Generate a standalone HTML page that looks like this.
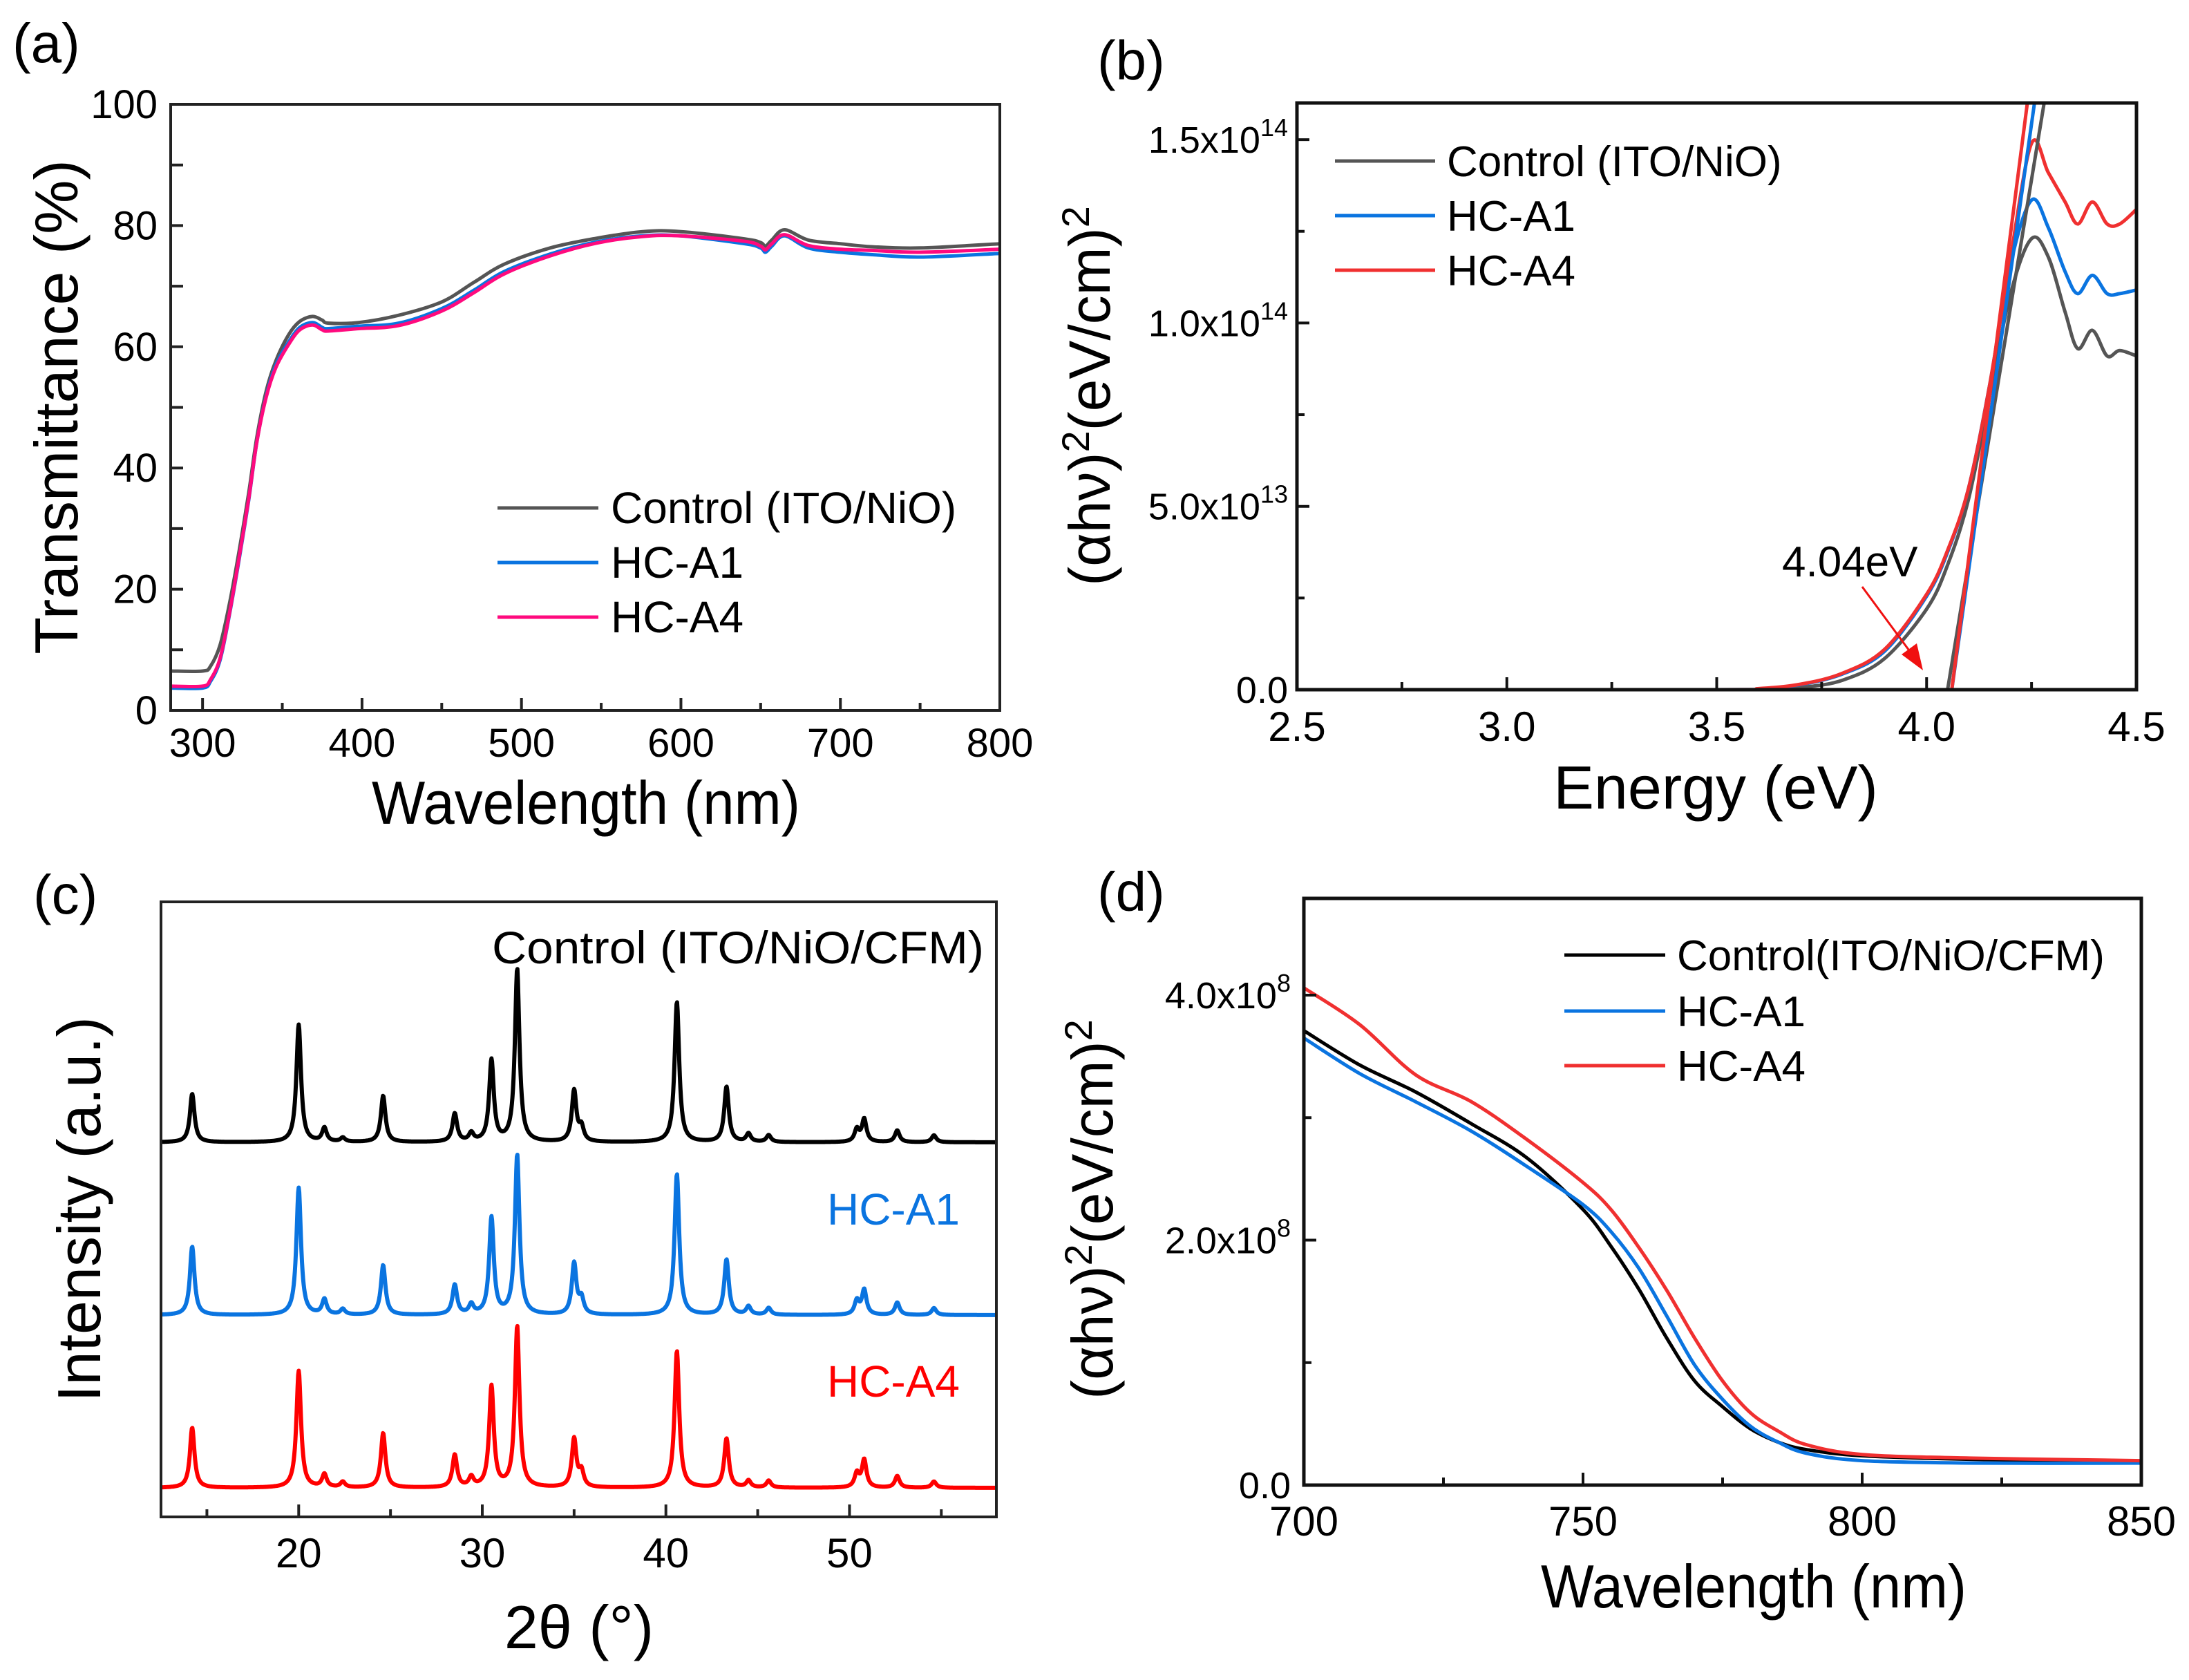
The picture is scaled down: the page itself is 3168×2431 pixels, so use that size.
<!DOCTYPE html>
<html><head><meta charset="utf-8">
<style>
html,body{margin:0;padding:0;background:#fff;}
svg{display:block;font-family:"Liberation Sans",Arial,sans-serif;}
</style></head>
<body>
<svg id="fig" width="3168" height="2431" viewBox="0 0 3168 2431" xmlns="http://www.w3.org/2000/svg">
<rect width="3168" height="2431" fill="#fff"/>
</svg>
<script>
// ---------- Panel (a) data ----------
const aWl = [280,300,305,311,317,323,329,334,340,346,354,361,369,375,379,398,423,450,470,489,518,547,576,600,640,650,653,657,665,680,700,720,750,800];
const aControl = [6.5,6.5,7.3,10.8,17.8,26.4,36,45,52.8,57.7,62,64.2,65,64.4,63.9,64,65.2,67.4,70.6,73.6,76.3,77.9,79,79,77.8,77.2,76.6,77.6,79.3,77.6,77,76.5,76.3,77];
const aHCA1 = [3.7,3.7,4.8,8.3,16,25,34.8,44.2,52,57,60.8,63.2,64,63.2,63,63.4,63.9,66.3,69.3,72.4,75.3,77.3,78.3,78.3,77,76.3,75.6,76.6,78.3,76.3,75.6,75.2,74.8,75.4];
const aHCA4 = [4.0,4.0,5.1,8.6,16.2,25.3,35,44.2,51.8,56.6,60.4,62.8,63.6,62.8,62.6,63,63.5,65.9,68.9,72,75,77.1,78.2,78.3,77.4,76.6,76,77,78.5,76.7,76.1,75.9,75.6,76.1];
const aXTicks = [300,400,500,600,700,800];
const aYTicks = [0,20,40,60,80,100];

// ---------- Panel (b) data ----------
const bE = [2.5,3.5,3.6,3.7,3.8,3.9,4.0,4.05,4.1,4.15,4.2,4.25,4.29,4.33,4.36,4.395,4.43,4.46,4.5];
const bControl = [0,0,0,0.6e12,2.6e12,8.5e12,2.2e13,3.4e13,5.2e13,8.0e13,1.08e14,1.23e14,1.18e14,1.03e14,0.93e14,0.98e14,0.91e14,0.925e14,0.91e14];
const bHCA1 = [0,0,2e11,1.4e12,4.3e12,1.05e13,2.55e13,3.75e13,5.5e13,8.3e13,1.16e14,1.335e14,1.26e14,1.14e14,1.08e14,1.13e14,1.08e14,1.08e14,1.09e14];
const bHCA4 = [0,0,3e11,1.5e12,4.5e12,1.1e13,2.6e13,3.8e13,5.5e13,8.3e13,1.18e14,1.49e14,1.41e14,1.33e14,1.27e14,1.33e14,1.27e14,1.27e14,1.31e14];
const bFitControl = [[4.05,0],[4.28,1.6e14]];
const bFitHCA1 = [[4.06,0],[4.257,1.6e14]];
const bFitHCA4 = [[4.06,0],[4.24,1.6e14]];
const bXTicks = [2.5,3.0,3.5,4.0,4.5];
const bYTicks = [0,5e13,1e14,1.5e14];
const bYTickLabels = [["0.0",""],["5.0x10","13"],["1.0x10","14"],["1.5x10","14"]];

// ---------- Panel (c) data ----------
const cPeakPos = [14.2,20.0,21.4,22.4,24.6,28.5,29.4,30.5,31.9,35.0,35.4,40.6,43.3,44.5,45.6,50.4,50.8,52.6,54.6];
const cControlH = [70,170,20,6,67,41,12,118,250,74,20,203,80,12,10,18,33,17,10];
const cHCA1H = [99,184,22,8,72,43,14,140,231,74,22,204,80,12,10,20,36,18,10];
const cHCA4H = [87,169,19,8,79,47,14,146,233,70,22,198,71,10,10,20,40,17,9];
const cXTicks = [20,30,40,50];

// ---------- Panel (d) data ----------
const dWl = [700,710,720,730,740,750,755,760,765,770,775,780,785,790,800,820,850];
const dControl = [3.71e8,3.43e8,3.21e8,2.95e8,2.67e8,2.25e8,1.95e8,1.60e8,1.20e8,0.85e8,0.64e8,0.46e8,0.35e8,0.29e8,0.24e8,0.21e8,0.19e8];
const dHCA1 = [3.65e8,3.36e8,3.13e8,2.89e8,2.60e8,2.29e8,2.07e8,1.77e8,1.38e8,0.98e8,0.70e8,0.48e8,0.35e8,0.26e8,0.20e8,0.18e8,0.18e8];
const dHCA4 = [4.06e8,3.76e8,3.35e8,3.13e8,2.82e8,2.47e8,2.25e8,1.94e8,1.59e8,1.20e8,0.85e8,0.59e8,0.44e8,0.33e8,0.25e8,0.22e8,0.20e8];
const dXTicks = [700,750,800,850];
const dYTicks = [0,2e8,4e8];
const dYTickLabels = [["0.0",""],["2.0x10","8"],["4.0x10","8"]];

const NS = "http://www.w3.org/2000/svg";
const svg = document.getElementById("fig");
function el(tag, attrs, parent, text){
  const e = document.createElementNS(NS, tag);
  for (const k in attrs) e.setAttribute(k, attrs[k]);
  if (text !== undefined) e.textContent = text;
  (parent || svg).appendChild(e);
  return e;
}
function lin(d0,d1,r0,r1){ return v => r0 + (v-d0)/(d1-d0)*(r1-r0); }
function smoothPath(pts){
  let d = "M" + pts[0][0].toFixed(1) + "," + pts[0][1].toFixed(1);
  for (let i=0;i<pts.length-1;i++){
    const p0 = pts[Math.max(0,i-1)], p1 = pts[i], p2 = pts[i+1], p3 = pts[Math.min(pts.length-1,i+2)];
    const c1x = p1[0] + (p2[0]-p0[0])/6, c1y = p1[1] + (p2[1]-p0[1])/6;
    const c2x = p2[0] - (p3[0]-p1[0])/6, c2y = p2[1] - (p3[1]-p1[1])/6;
    d += " C" + c1x.toFixed(1)+","+c1y.toFixed(1)+" "+c2x.toFixed(1)+","+c2y.toFixed(1)+" "+p2[0].toFixed(1)+","+p2[1].toFixed(1);
  }
  return d;
}
function clip(id,x,y,w,h){
  const defs = el("defs",{});
  const cp = el("clipPath",{id:id},defs);
  el("rect",{x:x,y:y,width:w,height:h},cp);
}

// ================= Panel (a) =================
{
  const X0=247,X1=1447,Y0=151,Y1=1028;
  const sx = lin(280,800,X0,X1), sy = lin(0,100,Y1,Y0);
  const g = el("g",{});
  
  
  const t = el("text",{x:18,y:90,"font-size":80},g,"(a)");
  
  
  clip("clipA",X0,Y0,X1-X0,Y1-Y0);
  const series = [[aControl,"#555555","control"],[aHCA1,"#0a74e0","hc-a1"],[aHCA4,"#ff0a7e","hc-a4"]];
  series.forEach(s=>{
    const pts = aWl.map((w,i)=>[sx(w),sy(s[0][i])]);
    const p = el("path",{d:smoothPath(pts),fill:"none",stroke:s[1],"stroke-width":5,"clip-path":"url(#clipA)"},g);
    
    
  });
  const box = el("rect",{x:X0,y:Y0,width:X1-X0,height:Y1-Y0,fill:"none",stroke:"#222","stroke-width":4},g);
  
  
  for (let v=300; v<=800; v+=50){
    const L = (v%100===0)?18:11;
    el("line",{x1:sx(v),x2:sx(v),y1:Y1,y2:Y1-L,stroke:"#222","stroke-width":4},g);
  }
  aXTicks.forEach(v=>{
    const tl = el("text",{x:sx(v),y:1095,"font-size":58,"text-anchor":"middle"},g,String(v));
    
    
  });
  for (let v=10; v<100; v+=10){
    el("line",{x1:X0,x2:X0+18,y1:sy(v),y2:sy(v),stroke:"#222","stroke-width":4},g);
  }
  aYTicks.forEach(v=>{
    const tl = el("text",{x:228,y:sy(v)+20,"font-size":58,"text-anchor":"end"},g,String(v));
    
    
  });
  const xt = el("text",{x:848,y:1192,"font-size":88,"text-anchor":"middle",textLength:620,lengthAdjust:"spacingAndGlyphs"},g,"Wavelength (nm)");
  
  
  const yt = el("text",{x:0,y:0,"font-size":88,"text-anchor":"middle",transform:"translate(112,589) rotate(-90)"},g,"Transmittance (%)");
  
  
  const legY=[735,814,893], legN=["Control (ITO/NiO)","HC-A1","HC-A4"];
  series.forEach((s,i)=>{
    const lg = el("g",{},g);
    
    
    el("line",{x1:720,x2:866,y1:legY[i],y2:legY[i],stroke:s[1],"stroke-width":5},lg);
    el("text",{x:884,y:legY[i]+22,"font-size":64},lg,legN[i]);
  });
}

// ================= Panel (b) =================
{
  const X0=1877,X1=3092,Y0=149,Y1=998;
  const sx = lin(2.5,4.5,X0,X1), sy = lin(0,1.6e14,Y1,Y0);
  const g = el("g",{});
  
  
  const t = el("text",{x:1588,y:115,"font-size":80},g,"(b)");
  
  
  clip("clipB",X0,Y0,X1-X0,Y1-Y0);
  const series = [[bControl,bFitControl,"#555555","control"],[bHCA1,bFitHCA1,"#0a74e0","hc-a1"],[bHCA4,bFitHCA4,"#f03030","hc-a4"]];
  series.forEach(s=>{
    const pts = bE.map((e,i)=>[sx(e),sy(s[0][i])]);
    const p = el("path",{d:smoothPath(pts),fill:"none",stroke:s[2],"stroke-width":5,"stroke-linejoin":"round","clip-path":"url(#clipB)"},g);
    
    
  });
  series.forEach(s=>{
    const f = el("line",{x1:sx(s[1][0][0]),y1:sy(s[1][0][1]),x2:sx(s[1][1][0]),y2:sy(s[1][1][1]),stroke:s[2],"stroke-width":5,"clip-path":"url(#clipB)"},g);
    
    
  });
  const box = el("rect",{x:X0,y:Y0,width:X1-X0,height:Y1-Y0,fill:"none",stroke:"#111","stroke-width":5},g);
  
  
  for (let v=2.5; v<=4.501; v+=0.25){
    const L = (Math.abs(v*2-Math.round(v*2))<1e-6)?18:11;
    el("line",{x1:sx(v),x2:sx(v),y1:Y1,y2:Y1-L,stroke:"#111","stroke-width":4},g);
  }
  bXTicks.forEach(v=>{
    const tl = el("text",{x:sx(v),y:1072,"font-size":60,"text-anchor":"middle"},g,v.toFixed(1));
    
    
  });
  for (let v=0; v<=1.5e14; v+=2.5e13){
    const L = (Math.round(v/2.5e13)%2===0)?18:11;
    el("line",{x1:X0,x2:X0+L,y1:sy(v),y2:sy(v),stroke:"#111","stroke-width":4},g);
  }
  bYTicks.forEach((v,i)=>{
    const tl = el("text",{x:1864,y:sy(v)+19,"font-size":54,"text-anchor":"end"},g);
    
    
    el("tspan",{},tl,bYTickLabels[i][0]);
    if (bYTickLabels[i][1]) el("tspan",{dy:-24,"font-size":36},tl,bYTickLabels[i][1]);
  });
  const xt = el("text",{x:2483,y:1170,"font-size":88,"text-anchor":"middle"},g,"Energy (eV)");
  
  
  const yt = el("text",{x:0,y:0,"font-size":84,"text-anchor":"middle",transform:"translate(1606,573) rotate(-90)"},g);
  
  
  el("tspan",{},yt,"(αhν)");
  el("tspan",{dy:-30,"font-size":56},yt,"2");
  el("tspan",{dy:30},yt,"(eV/cm)");
  el("tspan",{dy:-30,"font-size":56},yt,"2");
  const legY=[233,312,391], legN=["Control (ITO/NiO)","HC-A1","HC-A4"];
  series.forEach((s,i)=>{
    const lg = el("g",{},g);
    
    
    el("line",{x1:1932,x2:2077,y1:legY[i],y2:legY[i],stroke:s[2],"stroke-width":5},lg);
    el("text",{x:2094,y:legY[i]+22,"font-size":62},lg,legN[i]);
  });
  const an = el("text",{x:2579,y:834,"font-size":62},g,"4.04eV");
  
  
  const ar = el("g",{},g);
  
  
  el("line",{x1:2695,y1:849,x2:2768,y2:948,stroke:"#f01010","stroke-width":3},ar);
  el("polygon",{points:"2783,970 2752,947 2774,931",fill:"#f01010"},ar);
}

// ================= Panel (c) =================
{
  const X0=233,X1=1442,Y0=1305,Y1=2195;
  const sx = lin(12.5,58,X0,X1);
  const g = el("g",{});
  
  
  const t = el("text",{x:48,y:1322,"font-size":80},g,"(c)");
  
  
  clip("clipC",X0,Y0,X1-X0,Y1-Y0);
  const series = [[cControlH,1653,"#000000","control"],[cHCA1H,1903,"#0a74e0","hc-a1"],[cHCA4H,2153,"#ff0000","hc-a4"]];
  const gam = 0.15;
  series.forEach(s=>{
    let d="";
    for (let x=12.5; x<=58.0001; x+=0.03){
      let v=0;
      cPeakPos.forEach((p,i)=>{ const u=(x-p)/gam; v += s[0][i]/(1+u*u); });
      d += (d?" L":"M") + sx(x).toFixed(1)+","+(s[1]-v).toFixed(1);
    }
    const p = el("path",{d:d,fill:"none",stroke:s[2],"stroke-width":6,"stroke-linejoin":"round","clip-path":"url(#clipC)"},g);
    
    
  });
  const box = el("rect",{x:X0,y:Y0,width:X1-X0,height:Y1-Y0,fill:"none",stroke:"#222","stroke-width":4},g);
  
  
  for (let v=15; v<=55; v+=5){
    const L = (v%10===0)?18:11;
    el("line",{x1:sx(v),x2:sx(v),y1:Y1,y2:Y1-L,stroke:"#222","stroke-width":4},g);
  }
  cXTicks.forEach(v=>{
    const tl = el("text",{x:sx(v),y:2268,"font-size":60,"text-anchor":"middle"},g,String(v));
    
    
  });
  const xt = el("text",{x:838,y:2385,"font-size":88,"text-anchor":"middle"},g,"2θ (°)");
  
  
  const yt = el("text",{x:0,y:0,"font-size":88,"text-anchor":"middle",transform:"translate(145,1750) rotate(-90)"},g,"Intensity (a.u.)");
  
  
  const l1 = el("text",{x:1424,y:1394,"font-size":66,"text-anchor":"end",textLength:712,lengthAdjust:"spacingAndGlyphs"},g,"Control (ITO/NiO/CFM)");
  
  
  const l2 = el("text",{x:1389,y:1772,"font-size":64,"text-anchor":"end",fill:"#0a74e0"},g,"HC-A1");
  
  
  const l3 = el("text",{x:1389,y:2021,"font-size":64,"text-anchor":"end",fill:"#ff0000"},g,"HC-A4");
  
  
}

// ================= Panel (d) =================
{
  const X0=1887,X1=3099,Y0=1300,Y1=2149;
  const sx = lin(700,850,X0,X1), sy = lin(0,4.79e8,Y1,Y0);
  const g = el("g",{});
  
  
  const t = el("text",{x:1588,y:1318,"font-size":80},g,"(d)");
  
  
  clip("clipD",X0,Y0,X1-X0,Y1-Y0);
  const series = [[dControl,"#000000","control"],[dHCA1,"#0a74e0","hc-a1"],[dHCA4,"#f03030","hc-a4"]];
  series.forEach(s=>{
    const pts = dWl.map((w,i)=>[sx(w),sy(s[0][i])]);
    const p = el("path",{d:smoothPath(pts),fill:"none",stroke:s[1],"stroke-width":5,"clip-path":"url(#clipD)"},g);
    
    
  });
  const box = el("rect",{x:X0,y:Y0,width:X1-X0,height:Y1-Y0,fill:"none",stroke:"#111","stroke-width":5},g);
  
  
  for (let v=700; v<=850; v+=25){
    const L = (v%50===0)?18:11;
    el("line",{x1:sx(v),x2:sx(v),y1:Y1,y2:Y1-L,stroke:"#111","stroke-width":4},g);
  }
  dXTicks.forEach(v=>{
    const tl = el("text",{x:sx(v),y:2222,"font-size":60,"text-anchor":"middle"},g,String(v));
    
    
  });
  for (let v=0; v<=4e8; v+=1e8){
    const L = (v%2e8===0)?18:11;
    el("line",{x1:X0,x2:X0+L,y1:sy(v),y2:sy(v),stroke:"#111","stroke-width":4},g);
  }
  dYTicks.forEach((v,i)=>{
    const tl = el("text",{x:1868,y:sy(v)+19,"font-size":54,"text-anchor":"end"},g);
    
    
    el("tspan",{},tl,dYTickLabels[i][0]);
    if (dYTickLabels[i][1]) el("tspan",{dy:-24,"font-size":36},tl,dYTickLabels[i][1]);
  });
  const xt = el("text",{x:2538,y:2326,"font-size":88,"text-anchor":"middle",textLength:616,lengthAdjust:"spacingAndGlyphs"},g,"Wavelength (nm)");
  
  
  const yt = el("text",{x:0,y:0,"font-size":84,"text-anchor":"middle",transform:"translate(1610,1750) rotate(-90)"},g);
  
  
  el("tspan",{},yt,"(αhν)");
  el("tspan",{dy:-30,"font-size":56},yt,"2");
  el("tspan",{dy:30},yt,"(eV/cm)");
  el("tspan",{dy:-30,"font-size":56},yt,"2");
  const legY=[1382,1463,1542], legN=["Control(ITO/NiO/CFM)","HC-A1","HC-A4"];
  series.forEach((s,i)=>{
    const lg = el("g",{},g);
    
    
    el("line",{x1:2264,x2:2410,y1:legY[i],y2:legY[i],stroke:s[1],"stroke-width":5},lg);
    el("text",{x:2427,y:legY[i]+22,"font-size":62},lg,legN[i]);
  });
}
</script>
</body></html>
